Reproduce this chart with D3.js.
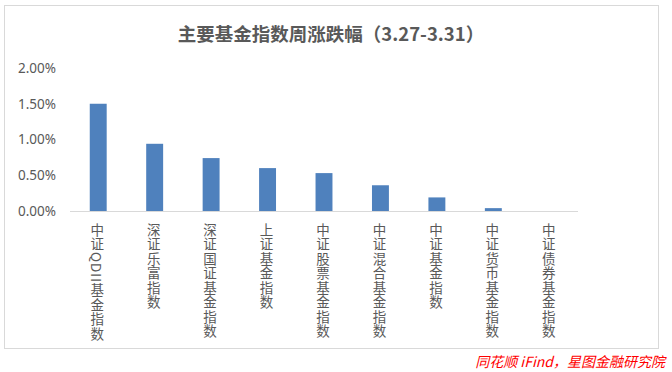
<!DOCTYPE html>
<html>
<head>
<meta charset="utf-8">
<script src="https://cdn.jsdelivr.net/npm/d3@7"></script>
<style>
  body { margin: 0; background: #fff; }
  svg { display: block; font-family: "Noto Sans CJK SC", "Noto Sans", sans-serif; }
</style>
</head>
<body>
<svg id="chart" width="672" height="372"></svg>
<script>
// ---- data ----
const categories = ['中证QDII基金指数', '深证乐富指数', '深证国证基金指数', '上证基金指数',
                    '中证股票基金指数', '中证混合基金指数', '中证基金指数', '中证货币基金指数', '中证债券基金指数'];
const changes = [0.0150, 0.0094, 0.0074, 0.0060, 0.0053, 0.0036, 0.0019, 0.0004, 0.0000];
const yTicks = [0, 0.005, 0.01, 0.015, 0.02];
const title = '主要基金指数周涨跌幅（3.27-3.31）';
const source = '同花顺 iFind，星图金融研究院';

const svg = d3.select('#chart');
const m = {top: 68, right: 94, bottom: 161, left: 70};
const W = 672 - m.left - m.right;
const H = 372 - m.top - m.bottom;

// frame
svg.append('rect').attr('x', 4.5).attr('y', 5.5).attr('width', 654).attr('height', 343)
  .attr('fill', '#fff').attr('stroke', '#d9d9d9');

svg.append('text').attr('x', 331).attr('y', 41)
  .attr('text-anchor', 'middle').attr('font-size', 18.5).attr('font-weight', 'bold')
  .attr('fill', '#595959').text(title);

const g = svg.append('g').attr('transform', `translate(${m.left},${m.top})`);

const x = d3.scaleBand().domain(categories).range([0, W]).paddingInner(0.7).paddingOuter(0.35);
const y = d3.scaleLinear().domain([0, 0.02]).range([H, 0]);

// y axis labels only
const yAxis = g.append('g').call(d3.axisLeft(y).tickValues(yTicks).tickFormat(d3.format('.2%')).tickSize(0).tickPadding(14));
yAxis.select('.domain').remove();
yAxis.selectAll('text').attr('fill', '#595959').attr('font-size', 13.5)
  .attr('font-family', '"Noto Sans", "DejaVu Sans", sans-serif');

// bars
g.selectAll('rect.bar').data(changes).join('rect')
  .attr('class', 'bar')
  .attr('x', (d, i) => x(categories[i]))
  .attr('width', x.bandwidth())
  .attr('y', d => y(d))
  .attr('height', d => H - y(d))
  .attr('fill', '#4f81bd');

// baseline
g.append('line').attr('x1', 0).attr('x2', W).attr('y1', y(0) + 0.5).attr('y2', y(0) + 0.5)
  .attr('stroke', '#d9d9d9');

// vertical category labels
g.selectAll('text.cat').data(categories).join('text')
  .attr('class', 'cat')
  .attr('x', d => x(d) + x.bandwidth() / 2 - 1)
  .attr('y', H + 12)
  .attr('writing-mode', 'vertical-rl')
  .attr('font-size', 13.5)
  .attr('fill', '#595959')
  .attr('letter-spacing', 1)
  .text(d => d);

// source
svg.append('text').attr('x', 665).attr('y', 367)
  .attr('text-anchor', 'end').attr('font-size', 14).attr('font-style', 'italic')
  .attr('fill', '#ff0000').text(source);
</script>
</body>
</html>
